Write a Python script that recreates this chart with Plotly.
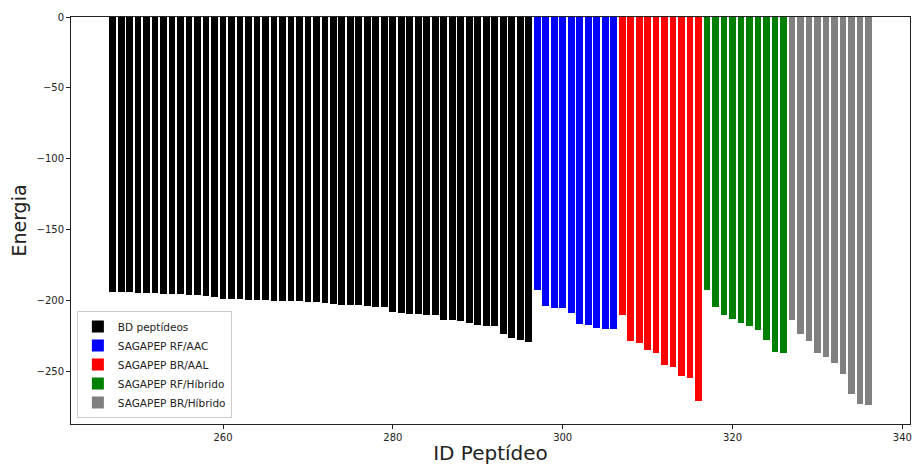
import plotly.graph_objects as go

# Data
bd_ids = list(range(247, 297))
bd_vals = [-193.9, -194.1, -194.1, -194.6, -194.6, -194.6, -195.3, -195.5, -195.8, -196.0,
           -196.2, -196.7, -197.6, -198.8, -199.2, -199.1, -199.5, -200.0, -200.0, -200.2,
           -200.2, -200.2, -200.5, -200.9, -201.4, -201.9, -202.6, -203.1, -203.3, -203.6,
           -204.4, -204.5, -204.9, -208.2, -208.9, -209.4, -209.4, -210.6, -210.6, -213.8,
           -214.3, -214.5, -215.9, -217.5, -218.2, -218.2, -223.9, -226.7, -228.4, -229.6]

rf_aac_ids = list(range(297, 307))
rf_aac_vals = [-192.5, -204.2, -205.4, -205.4, -208.9, -216.7, -217.4, -219.5, -220.2, -220.2]

br_aal_ids = list(range(307, 317))
br_aal_vals = [-210.1, -228.9, -230.3, -235.4, -237.3, -246.0, -247.2, -253.3, -254.9, -271.1]

rf_hib_ids = list(range(317, 327))
rf_hib_vals = [-192.5, -204.9, -210.1, -212.9, -216.2, -218.3, -220.9, -228.2, -236.4, -237.1]

br_hib_ids = list(range(327, 337))
br_hib_vals = [-213.8, -223.5, -228.6, -237.5, -239.9, -244.4, -252.3, -266.2, -273.0, -273.7]

series = [
    ("BD peptídeos", bd_ids, bd_vals, "#000000"),
    ("SAGAPEP RF/AAC", rf_aac_ids, rf_aac_vals, "#0000ff"),
    ("SAGAPEP BR/AAL", br_aal_ids, br_aal_vals, "#ff0000"),
    ("SAGAPEP RF/Híbrido", rf_hib_ids, rf_hib_vals, "#008000"),
    ("SAGAPEP BR/Híbrido", br_hib_ids, br_hib_vals, "#808080"),
]

y_ticks = [0, -50, -100, -150, -200, -250]
y_tick_text = ["0", "\u221250", "\u2212100", "\u2212150", "\u2212200", "\u2212250"]
x_ticks = [260, 280, 300, 320, 340]

fig = go.Figure()
for name, ids, vals, color in series:
    fig.add_trace(go.Bar(
        x=ids, y=vals, name=name, width=0.8,
        marker=dict(color=color, line=dict(width=0)),
    ))

font = "DejaVu Sans, sans-serif"
fig.update_layout(
    width=914, height=465,
    margin=dict(l=71, r=2, t=17, b=41),
    paper_bgcolor="white", plot_bgcolor="white",
    font=dict(family=font, size=10, color="#222"),
    bargap=0,
    showlegend=True,
    legend=dict(
        x=0.007, y=0.015, xanchor="left", yanchor="bottom",
        bgcolor="rgba(255,255,255,0.8)", bordercolor="#cccccc", borderwidth=1,
        font=dict(family=font, size=10.5, color="#222"),
        tracegroupgap=0, itemwidth=30,
    ),
    xaxis=dict(
        range=[242.1, 340.9],
        tickvals=x_ticks, ticktext=[str(v) for v in x_ticks],
        ticks="outside", ticklen=4, tickcolor="#222", tickwidth=1,
        showline=True, linecolor="#222", linewidth=1, mirror=True,
        showgrid=False, zeroline=False,
        title=dict(text="ID Peptídeo", font=dict(family=font, size=20, color="#222"), standoff=5),
    ),
    yaxis=dict(
        range=[-287.4, 0],
        tickvals=y_ticks, ticktext=y_tick_text,
        ticks="outside", ticklen=4, tickcolor="#222", tickwidth=1,
        showline=True, linecolor="#222", linewidth=1, mirror=True,
        showgrid=False, zeroline=False,
        title=dict(text="Energia", font=dict(family=font, size=19, color="#222"), standoff=4),
    ),
)

fig.write_html("out.html", config={"displayModeBar": False},
               post_script="document.body.style.margin='0';document.body.style.padding='0';")
